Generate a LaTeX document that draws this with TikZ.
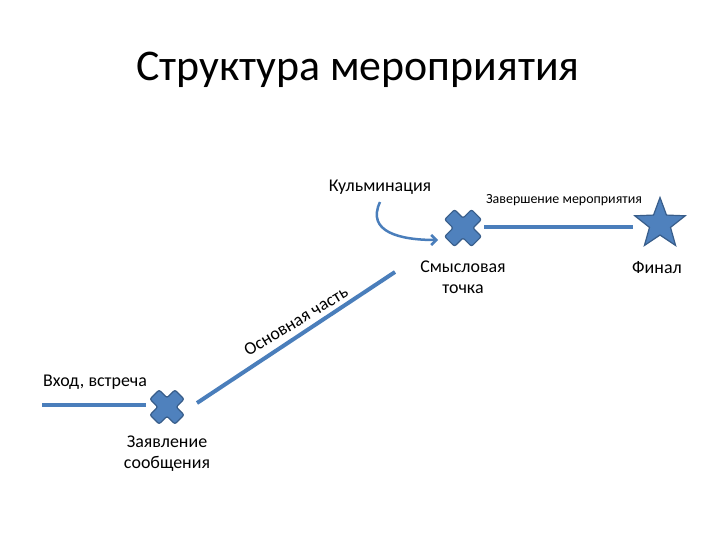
\documentclass[tikz,border=0pt]{standalone}
\usepackage{fontspec}
\setmainfont{Carlito}
\usetikzlibrary{shapes.geometric,arrows.meta}
\definecolor{obl}{HTML}{4A7EBB}
\definecolor{ofill}{HTML}{4F81BD}
\definecolor{odark}{HTML}{385D8A}
\tikzset{
  conn/.style={draw=obl,line width=4bp},
  anchorpt/.style={circle,inner sep=0pt,minimum size=36bp},
  lbl/.style={inner sep=0pt,text=black,font=\fontsize{18}{21}\selectfont,align=center},
  crossmark/.pic={
    \fill[ofill,draw=odark,line width=1.2bp,rounded corners=2bp,rotate=45]
      (7,7)--(19,7)--(19,-7)--(7,-7)--(7,-19)--(-7,-19)--(-7,-7)--(-19,-7)--(-19,7)--(-7,7)--(-7,19)--(7,19)--cycle;
  }
}
\begin{document}
\begin{tikzpicture}[x=1bp,y=-1bp]
\useasboundingbox (0,0) rectangle (720,540);
% title
\node[inner sep=0pt,font=\fontsize{44}{52}\selectfont] (title) at (358,70) {Структура мероприятия};
% markers
\node[anchorpt] (c1) at (167,407) {};
\pic[scale=0.93] at (c1) {crossmark};
\node[anchorpt] (c2) at (463,228) {};
\pic at (c2) {crossmark};
\node[star,star points=5,star point ratio=2.4,minimum size=53bp,inner sep=0pt,fill=ofill,draw=odark,line width=1.2bp] (fin) at (660,224) {};
% free ends
\coordinate (s1) at (42,405);
\coordinate (e1) at (146,405);
\coordinate (m1) at (197,403);
\coordinate (m2) at (395,272);
\coordinate (s3) at (484,227);
\coordinate (e3) at (633,227);
\draw[conn] (s1) -- (e1);
\draw[conn] (m1) -- (m2);
\draw[conn] (s3) -- (e3);
% labels
\node[lbl] (vhod) at (95,382) {Вход, встреча};
\node[lbl] (zayav) at (167,454) {Заявление\\сообщения};
\node[lbl,rotate=31] (osn) at (296,321) {Основная часть};
\node[lbl] (kulm) at (380,187) {Кульминация};
\node[lbl] (smysl) at (463,277) {Смысловая\\точка};
\node[lbl,font=\fontsize{14}{16}\selectfont] (zav) at (564,200) {Завершение мероприятия};
\node[lbl] (final) at (657,268) {Финал};
% curved arrow
\coordinate (k1) at (380,202);
\coordinate (k2) at (438,240);
\draw[draw=obl,line width=2.5bp,-{Straight Barb[length=5bp,width=10bp]}] (k1) .. controls (366,232) and (400,240) .. (k2);
\end{tikzpicture}
\end{document}
